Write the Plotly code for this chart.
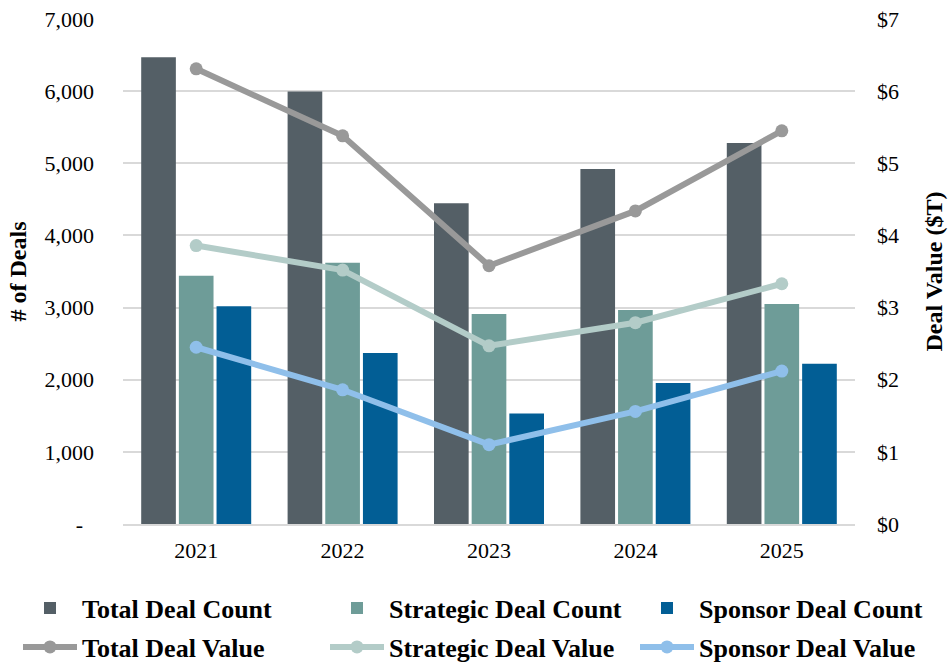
import plotly.graph_objects as go

years = ["2021", "2022", "2023", "2024", "2025"]
total_count = [6470, 5995, 4445, 4920, 5280]
strategic_count = [3440, 3620, 2910, 2965, 3050]
sponsor_count = [3020, 2370, 1530, 1955, 2220]
total_value = [6.31, 5.38, 3.58, 4.34, 5.45]
strategic_value = [3.86, 3.52, 2.47, 2.79, 3.33]
sponsor_value = [2.45, 1.86, 1.10, 1.56, 2.12]

left_ticks = [0, 1000, 2000, 3000, 4000, 5000, 6000, 7000]
left_labels = ["-\u00a0\u00a0", "1,000", "2,000", "3,000", "4,000", "5,000", "6,000", "7,000"]
right_ticks = [0, 1, 2, 3, 4, 5, 6, 7]
right_labels = ["$0", "$1", "$2", "$3", "$4", "$5", "$6", "$7"]

FONT = "Liberation Serif"
W, H = 948, 665
fig = go.Figure()

# legend slots: (legend id, text-start x px, row centre y px)
slots = [("legend", 83, 608), ("legend2", 390, 608), ("legend3", 700, 608),
         ("legend4", 83, 647), ("legend5", 390, 647), ("legend6", 700, 647)]

bar_specs = [
    ("Total Deal Count", total_count, "#545F66"),
    ("Strategic Deal Count", strategic_count, "#6E9C98"),
    ("Sponsor Deal Count", sponsor_count, "#025E95"),
]
line_specs = [
    ("Total Deal Value", total_value, "#999999"),
    ("Strategic Deal Value", strategic_value, "#B3CCC8"),
    ("Sponsor Deal Value", sponsor_value, "#8FBFEA"),
]
for i, (name, vals, col) in enumerate(bar_specs):
    fig.add_trace(go.Bar(x=years, y=vals, name=name, legend=slots[i][0],
                         marker=dict(color=col, line=dict(width=0)), yaxis="y"))
for i, (name, vals, col) in enumerate(line_specs):
    fig.add_trace(go.Scatter(x=years, y=vals, name=name, mode="lines+markers",
                             legend=slots[3 + i][0],
                             line=dict(color=col, width=6),
                             marker=dict(color=col, size=13), yaxis="y2"))

ITEMW = 54
legend_layout = {}
for lid, tx, cy in slots:
    legend_layout[lid] = dict(
        orientation="h", xref="container", yref="container",
        x=(tx - ITEMW - 10 - 1) / W, y=1 - cy / H, xanchor="left", yanchor="middle",
        font=dict(family=FONT, size=26, color="#000000", weight="bold"),
        itemwidth=ITEMW, bgcolor="rgba(0,0,0,0)")

fig.update_layout(
    width=W, height=H,
    margin=dict(l=123, r=93, t=19, b=141, autoexpand=False),
    paper_bgcolor="white", plot_bgcolor="white",
    font=dict(family=FONT, size=22, color="#000000"),
    barmode="group", bargap=0.228, bargroupgap=0.08,
    showlegend=True,
    xaxis=dict(type="category", showgrid=False, showline=True, linecolor="#D9D9D9", linewidth=2,
               ticks="", tickfont=dict(size=22), ticklabelstandoff=6),
    yaxis=dict(range=[0, 7000], tickvals=left_ticks, ticktext=left_labels,
               showgrid=True, gridcolor="#D9D9D9", gridwidth=1.5, zeroline=False,
               ticks="", ticklabelstandoff=28,
               title=dict(text="<b># of Deals</b>", font=dict(size=24), standoff=11)),
    yaxis2=dict(range=[0, 7], tickvals=right_ticks, ticktext=right_labels, overlaying="y", side="right",
                showgrid=False, zeroline=False, ticks="", ticklabelstandoff=21,
                title=dict(text="<b>Deal Value ($T)</b>", font=dict(size=24), standoff=27)),
    **legend_layout,
)

fig.write_html("out.html", config={"displayModeBar": False},
               post_script="document.body.style.margin='0';document.body.style.overflow='hidden';")
